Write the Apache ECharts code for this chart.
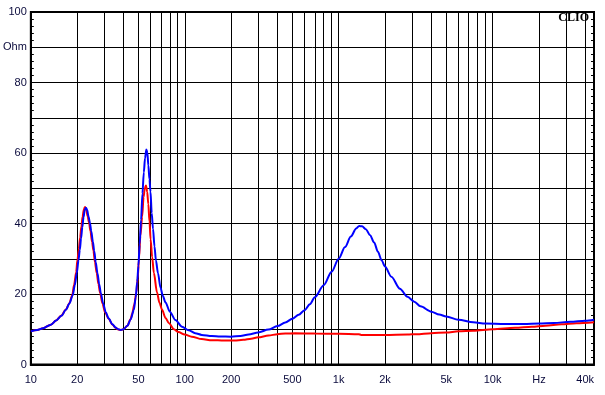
<!DOCTYPE html>
<html>
<head>
<meta charset="utf-8">
<script src="https://cdn.jsdelivr.net/npm/echarts@6/dist/echarts.min.js"></script>
<style>
html,body{margin:0;padding:0;background:#fff;}
#c{width:605px;height:395px;}
</style>
</head>
<body>
<div id="c"></div>
<script>
// ---- data ----
var blueFreq = [10,11,12,13.5,14.6,15.8,16.9,17.8,18.7,19.3,19.9,20.4,20.8,21.2,21.6,22.0,22.4,22.8,23.2,23.7,24.2,24.7,25.3,25.8,26.4,27.1,27.8,28.5,29.5,30.7,32,33.9,35.5,37,38.4,40,42.4,44.5,46.7,48,49.1,50,50.9,52,53.1,54.2,55.2,56.3,57.2,58,59,59.9,61,62.2,63.6,65,67,69.6,72,75,80,87,96,106,117,129,150,170,200,230,260,300,350,400,450,500,550,600,650,700,800,900,1000,1100,1200,1300,1360,1420,1500,1600,1700,1800,1900,2000,2200,2500,2800,3100,3400,4000,4500,5000,6000,7500,9000,12000,16000,20000,25000,32000,40000,45600];
var blueOhm  = [9.4,9.8,10.3,11.3,12.5,13.8,15.5,17.3,19.6,22.5,26,29.6,32.5,35.8,39,41.8,43.8,44.5,43.9,42,40.2,37.8,34.8,32.3,29,25.9,22.8,20.2,17.3,14.8,13.1,11.4,10.5,10.0,9.8,10.0,11.0,12.8,15.5,19,23.5,28,34,41,48.5,54.5,58.5,61,60,56.5,52.5,49,43,38.5,33.5,29.5,25.9,21.8,19.5,17.6,15,12.6,10.7,9.7,8.9,8.4,8.1,7.95,7.9,8.1,8.5,9.1,9.9,10.9,11.9,13.0,14.1,15.4,17.1,19.1,22.5,26.3,30.0,33.3,36.3,38.6,39.3,39.2,38.4,36.7,34.6,32.0,29.6,27.8,24.9,21.5,19.2,17.8,16.5,15.0,14.2,13.6,12.7,12.0,11.6,11.5,11.5,11.6,11.8,12.1,12.4,12.7];

var redFreq = [10,11,12,13.5,14.6,15.8,16.9,17.8,18.6,19.1,19.7,20.1,20.5,20.9,21.3,21.7,22.1,22.5,22.9,23.4,23.9,24.4,25.0,25.5,26.1,26.8,27.5,28.2,29.2,30.4,32,33.9,35.5,37,38.4,40,42.4,44.5,45.6,47,48.5,49.5,50.4,51.5,52.9,54,55,56,57,58,59,60,61.4,63,66,68.5,71.3,75,79,85,91,100,111,129,150,180,210,240,270,300,350,400,450,520,700,1000,1350,1400,2000,2800,3200,4000,5000,6000,7500,10000,14000,18000,22000,28000,35000,45600];
var redOhm  = [9.4,9.8,10.3,11.3,12.5,13.9,15.6,17.4,19.7,22.6,26.2,29.8,32.7,36.0,39.2,42.0,44.0,44.7,44.0,42,40.2,37.8,34.8,32.3,29,25.9,22.8,20.2,17.3,14.8,13.0,11.3,10.4,9.9,9.8,10.0,11.0,12.9,14.5,17,20.5,24.5,30,36.5,42,47.5,50,50.8,49,45.5,40.5,35.5,30.5,26,20.5,17.5,15.5,13.2,11.7,10.0,9.2,8.5,7.9,7.2,6.9,6.8,6.8,7.0,7.3,7.7,8.2,8.6,8.8,8.85,8.8,8.7,8.6,8.4,8.4,8.5,8.6,8.9,9.1,9.4,9.6,10.0,10.4,10.7,11.0,11.4,11.7,12.0];

var xGridFreqs = [10,20,30,40,50,60,70,80,90,100,200,300,400,500,600,700,800,900,1000,2000,3000,4000,5000,6000,7000,8000,9000,10000,20000,30000,40000];
var xLabelFreqs = [10,20,50,100,200,500,1000,2000,5000,10000,20000,40000];
var xLabelTexts = ['10','20','50','100','200','500','1k','2k','5k','10k','Hz','40k'];
var yLabelValues = [0,20,40,60,80,90,100];
var yLabelTexts = ['0','20','40','60','80','Ohm','100'];
var xMinFreq = 10, xMaxFreq = 45600;

// ---- build ----
function lg(f){ return Math.log10(f); }
function pairs(fs, vs){ var o=[]; for (var i=0;i<fs.length;i++) o.push([lg(fs[i]), vs[i]]); return o; }
var xLabelMap = {};
xLabelFreqs.forEach(function(f,i){ xLabelMap[lg(f).toFixed(5)] = xLabelTexts[i]; });
var yLabelMap = {};
yLabelValues.forEach(function(v,i){ yLabelMap[v] = yLabelTexts[i]; });

var txtColor = '#0a0a3c';
var font = 'Liberation Sans, Arial, sans-serif';

var chart = echarts.init(document.getElementById('c'), null, {renderer:'canvas'});
chart.setOption({
  animation: false,
  backgroundColor: '#ffffff',
  title: {
    text: 'CLIO', right: 16, top: 12, padding: 0,
    textStyle: {fontFamily: 'Liberation Serif, Times New Roman, serif', fontWeight: 'bold', fontSize: 12, color: '#000'}
  },
  grid: {left: 28, right: 11, top: 12, bottom: 30.5, show: true, borderColor: '#000', borderWidth: 2, backgroundColor: 'transparent'},
  xAxis: {
    type: 'value', min: lg(xMinFreq), max: lg(xMaxFreq),
    axisLine: {show: true, onZero: false, lineStyle: {color: '#000', width: 2}},
    axisTick: {show: false, customValues: xGridFreqs.map(lg)},
    splitLine: {show: true, lineStyle: {color: '#000', width: 1}},
    axisLabel: {
      customValues: xLabelFreqs.map(lg), margin: 10,
      color: txtColor, fontFamily: font, fontSize: 11,
      formatter: function(v){ return xLabelMap[v.toFixed(5)] || ''; }
    }
  },
  yAxis: [{
    type: 'value', min: 0, max: 100, interval: 10, position: 'left',
    axisLine: {show: true, lineStyle: {color: '#000', width: 2}},
    axisTick: {show: true, inside: true, length: 3, lineStyle: {color: '#000'}},
    minorTick: {show: true, splitNumber: 5, length: 3, lineStyle: {color: '#000'}},
    splitLine: {show: true, lineStyle: {color: '#000', width: 1}},
    axisLabel: {
      customValues: yLabelValues, margin: 4,
      color: txtColor, fontFamily: font, fontSize: 11,
      formatter: function(v){ return yLabelMap[v] !== undefined ? yLabelMap[v] : ''; }
    }
  }, {
    type: 'value', min: 0, max: 100, interval: 10, position: 'right',
    axisLine: {show: true, lineStyle: {color: '#000', width: 2}},
    axisTick: {show: true, inside: true, length: 3, lineStyle: {color: '#000'}},
    minorTick: {show: true, splitNumber: 5, length: 3, lineStyle: {color: '#000'}},
    splitLine: {show: false},
    axisLabel: {show: false}
  }],
  series: [{
    name: 'red', type: 'line', data: pairs(redFreq, redOhm),
    showSymbol: false, smooth: 0.3, smoothMonotone: 'x',
    lineStyle: {color: '#ff0000', width: 2}, z: 3
  }, {
    name: 'blue', type: 'line', data: pairs(blueFreq, blueOhm),
    showSymbol: false, smooth: 0.3, smoothMonotone: 'x',
    lineStyle: {color: '#0000ff', width: 2}, z: 4
  }]
});
</script>
</body>
</html>
